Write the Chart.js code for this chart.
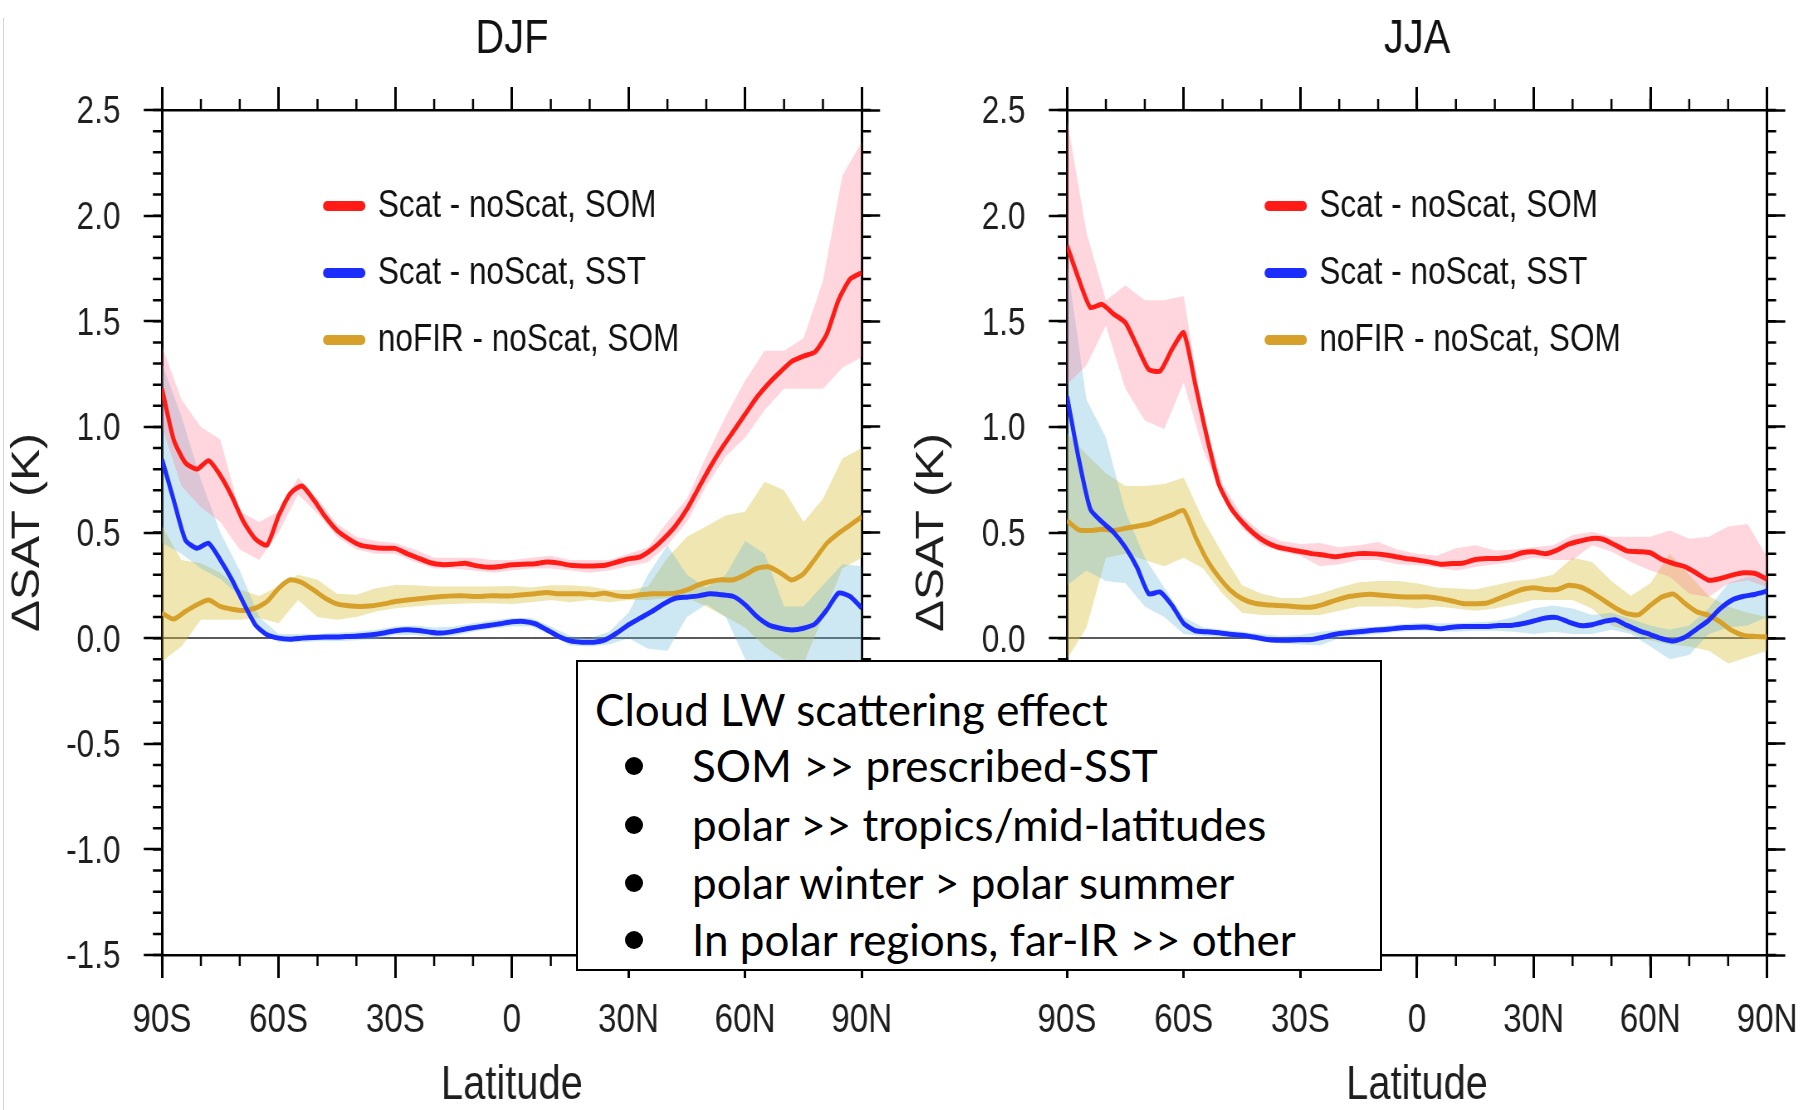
<!DOCTYPE html>
<html lang="en">
<head>
<meta charset="UTF-8">
<title>Zonal-mean surface air temperature change</title>
<script src="https://cdn.jsdelivr.net/npm/chart.js"></script>
<style>
    body {
        margin: 0;
        width: 1806px;
        height: 1110px;
        overflow: hidden;
        position: relative;
        background: #fff;
        font-family: 'Liberation Sans', Arial, sans-serif;
    }
    canvas.panel {
        position: absolute;
        top: 0;
        transform-origin: 0 0;
    }
    #edge {
        position: absolute;
        left: 3px;
        top: 18px;
        bottom: 0;
        border-left: 1px solid #d4d4d4;
    }
    .note {
        position: absolute;
        left: 576px;
        top: 660px;
        width: 806px;
        height: 311px;
        box-sizing: border-box;
        border: 2px solid #000;
        background: #fff;
        font-family: Lato, 'Open Sans', sans-serif;
        font-size: 44px;
        color: #000;
        z-index: 5;
    }
    .note div {
        position: absolute;
        height: 58px;
        line-height: 58px;
        white-space: nowrap;
    }
    .note .head { left: 17px; }
    .note .item { left: 114px; }
    .note .item::before {
        content: "";
        position: absolute;
        left: -67px;
        top: 21px;
        width: 18px;
        height: 18px;
        border-radius: 50%;
        background: #000;
    }
</style>
</head>
<body>

<div id="edge"></div>
<canvas id="djf" class="panel"></canvas>
<canvas id="jja" class="panel"></canvas>

<div class="note">
    <div class="head" style="top:18px">Cloud LW scattering effect</div>
    <div class="item" style="top:74px">SOM &gt;&gt; prescribed-SST</div>
    <div class="item" style="top:133px">polar &gt;&gt; tropics/mid-latitudes</div>
    <div class="item" style="top:191px">polar winter &gt; polar summer</div>
    <div class="item" style="top:248px">In polar regions, far-IR &gt;&gt; other</div>
</div>

<script>
// latitude of the line samples (deg, south negative)
const lat = [-90, -87, -84, -81, -78, -75, -72, -69, -66, -63, -60, -57, -54, -51, -48, -45, -42, -39, -36, -33, -30,
             -27, -24, -21, -18, -15, -12, -9, -6, -3, 0, 3, 6, 9, 12, 15, 18, 21, 24, 27, 30,
             33, 36, 39, 42, 45, 48, 51, 54, 57, 60, 63, 66, 69, 72, 75, 78, 81, 84, 87, 90];
// latitude of the spread (shading) samples
const latBand = [-90, -85, -80, -75, -70, -65, -60, -55, -50, -45, -40, -35, -30, -25, -20, -15, -10, -5, 0,
                 5, 10, 15, 20, 25, 30, 35, 40, 45, 50, 55, 60, 65, 70, 75, 80, 85, 90];

const latTicks = [-90, -60, -30, 0, 30, 60, 90];
const latTickLabels = ['90S', '60S', '30S', '0', '30N', '60N', '90N'];

const seriesNames = ['Scat - noScat, SOM', 'Scat - noScat, SST', 'noFIR - noScat, SOM'];

// ---- DJF ----
const djfSom = [1.18, 0.94, 0.83, 0.80, 0.84, 0.77, 0.67, 0.55, 0.47, 0.44, 0.58, 0.685, 0.72, 0.655, 0.575, 0.51, 0.47, 0.44, 0.43, 0.425, 0.425,
                0.40, 0.378, 0.357, 0.348, 0.35, 0.354, 0.342, 0.335, 0.339, 0.347, 0.35, 0.352, 0.36, 0.355, 0.345, 0.342, 0.342, 0.345, 0.36, 0.375,
                0.385, 0.42, 0.47, 0.53, 0.61, 0.71, 0.81, 0.90, 0.98, 1.06, 1.14, 1.205, 1.26, 1.31, 1.335, 1.355, 1.44, 1.60, 1.70, 1.73];
const djfSst = [0.846, 0.654, 0.465, 0.425, 0.449, 0.37, 0.276, 0.165, 0.063, 0.016, 0.0, -0.005, 0.0, 0.003, 0.005, 0.005, 0.008, 0.011, 0.016, 0.024, 0.035,
                0.04, 0.036, 0.028, 0.024, 0.032, 0.043, 0.052, 0.06, 0.068, 0.077, 0.079, 0.068, 0.039, 0.008, -0.013, -0.019, -0.019, -0.008, 0.024, 0.063,
                0.095, 0.126, 0.162, 0.189, 0.194, 0.20, 0.21, 0.205, 0.197, 0.158, 0.102, 0.063, 0.047, 0.039, 0.047, 0.068, 0.134, 0.213, 0.197, 0.142];
const djfNoFir = [0.118, 0.09, 0.126, 0.158, 0.18, 0.15, 0.137, 0.131, 0.142, 0.173, 0.236, 0.276, 0.263, 0.228, 0.189, 0.162, 0.153, 0.15, 0.153, 0.162, 0.173,
                  0.181, 0.186, 0.192, 0.197, 0.2, 0.2, 0.197, 0.2, 0.2, 0.2, 0.205, 0.21, 0.216, 0.21, 0.21, 0.21, 0.205, 0.213, 0.2, 0.197,
                  0.205, 0.21, 0.21, 0.213, 0.228, 0.252, 0.268, 0.276, 0.276, 0.30, 0.33, 0.338, 0.31, 0.275, 0.305, 0.375, 0.449, 0.496, 0.535, 0.575];

const djfSomHi = [1.38, 1.13, 1.0, 0.94, 0.60, 0.55, 0.60, 0.76, 0.66, 0.54, 0.48, 0.46, 0.45, 0.42, 0.38, 0.38, 0.38, 0.37, 0.37,
                  0.38, 0.39, 0.37, 0.37, 0.37, 0.40, 0.43, 0.55, 0.66, 0.86, 1.05, 1.22, 1.36, 1.36, 1.42, 1.69, 2.19, 2.35];
const djfSomLo = [1.0, 0.72, 0.62, 0.55, 0.42, 0.37, 0.50, 0.68, 0.59, 0.48, 0.42, 0.40, 0.40, 0.36, 0.33, 0.33, 0.32, 0.31, 0.32,
                  0.33, 0.33, 0.32, 0.31, 0.32, 0.34, 0.36, 0.44, 0.55, 0.72, 0.86, 0.95, 1.08, 1.18, 1.18, 1.18, 1.28, 1.33];
const djfSstHi = [1.30, 1.05, 0.75, 0.50, 0.32, 0.10, 0.02, 0.02, 0.02, 0.025, 0.03, 0.04, 0.055, 0.06, 0.05, 0.055, 0.07, 0.085, 0.095,
                  0.095, 0.055, 0.01, 0.0, 0.03, 0.12, 0.30, 0.44, 0.30, 0.24, 0.30, 0.46, 0.40, 0.15, 0.15, 0.25, 0.35, 0.34];
const djfSstLo = [0.45, 0.40, 0.33, 0.28, 0.20, 0.04, -0.02, -0.02, -0.015, -0.015, -0.01, -0.005, 0.015, 0.015, 0.005, 0.01, 0.03, 0.045, 0.055,
                  0.055, 0.015, -0.035, -0.04, -0.03, 0.0, -0.05, -0.06, 0.10, 0.16, 0.10, -0.10, -0.20, -0.20, -0.20, -0.15, -0.12, -0.12];
const djfNoFirHi = [0.53, 0.37, 0.355, 0.31, 0.23, 0.20, 0.245, 0.30, 0.276, 0.21, 0.205, 0.236, 0.252, 0.25, 0.244, 0.244, 0.244, 0.244, 0.247,
                    0.24, 0.25, 0.25, 0.244, 0.228, 0.228, 0.244, 0.38, 0.48, 0.53, 0.58, 0.60, 0.74, 0.70, 0.55, 0.66, 0.85, 0.90];
const djfNoFirLo = [-0.11, -0.04, 0.087, 0.087, 0.087, 0.095, 0.07, 0.18, 0.10, 0.087, 0.10, 0.126, 0.142, 0.15, 0.158, 0.162, 0.165, 0.165, 0.162,
                    0.17, 0.18, 0.17, 0.18, 0.17, 0.18, 0.18, 0.19, 0.19, 0.15, 0.10, 0.05, -0.04, -0.10, -0.12, 0.10, 0.33, 0.38];

// ---- JJA ----
const jjaSom = [1.858, 1.70, 1.565, 1.58, 1.534, 1.494, 1.383, 1.272, 1.265, 1.367, 1.446, 1.20, 0.95, 0.73, 0.62, 0.55, 0.496, 0.456, 0.432, 0.42, 0.41,
                0.40, 0.393, 0.385, 0.393, 0.40, 0.40, 0.396, 0.388, 0.377, 0.37, 0.361, 0.35, 0.353, 0.356, 0.372, 0.377, 0.377, 0.385, 0.404, 0.409,
                0.40, 0.417, 0.445, 0.46, 0.472, 0.467, 0.44, 0.413, 0.409, 0.404, 0.372, 0.353, 0.337, 0.306, 0.274, 0.282, 0.298, 0.309, 0.306, 0.279];
const jjaSst = [1.145, 0.85, 0.61, 0.55, 0.50, 0.43, 0.335, 0.21, 0.218, 0.155, 0.07, 0.035, 0.03, 0.025, 0.018, 0.014, 0.005, -0.005, -0.01, -0.01, -0.008,
                -0.006, 0.005, 0.018, 0.025, 0.03, 0.036, 0.04, 0.045, 0.05, 0.052, 0.052, 0.044, 0.052, 0.055, 0.055, 0.055, 0.06, 0.06, 0.068, 0.081,
                0.095, 0.097, 0.076, 0.06, 0.063, 0.079, 0.087, 0.06, 0.036, 0.017, -0.003, -0.014, 0.005, 0.044, 0.084, 0.14, 0.18, 0.198, 0.208, 0.223];
const jjaNoFir = [0.556, 0.512, 0.51, 0.515, 0.51, 0.52, 0.53, 0.54, 0.562, 0.583, 0.604, 0.48, 0.37, 0.29, 0.227, 0.187, 0.166, 0.158, 0.155, 0.152, 0.147,
                  0.147, 0.16, 0.179, 0.195, 0.203, 0.208, 0.203, 0.198, 0.195, 0.195, 0.195, 0.187, 0.176, 0.163, 0.163, 0.166, 0.187, 0.21, 0.23, 0.239,
                  0.23, 0.23, 0.25, 0.242, 0.215, 0.179, 0.143, 0.116, 0.111, 0.155, 0.195, 0.208, 0.163, 0.124, 0.108, 0.076, 0.036, 0.013, 0.008, 0.005];

const jjaSomHi = [2.46, 1.92, 1.60, 1.67, 1.60, 1.60, 1.62, 1.05, 0.73, 0.58, 0.50, 0.46, 0.445, 0.45, 0.43, 0.44, 0.455, 0.42, 0.40,
                  0.39, 0.425, 0.44, 0.415, 0.42, 0.43, 0.44, 0.488, 0.504, 0.48, 0.48, 0.48, 0.51, 0.47, 0.48, 0.528, 0.54, 0.385];
const jjaSomLo = [1.20, 1.29, 1.48, 1.18, 1.03, 0.99, 1.21, 0.89, 0.67, 0.52, 0.44, 0.41, 0.39, 0.34, 0.35, 0.37, 0.37, 0.35, 0.345,
                  0.335, 0.32, 0.337, 0.35, 0.36, 0.38, 0.37, 0.37, 0.44, 0.41, 0.36, 0.32, 0.29, 0.21, 0.195, 0.258, 0.274, 0.242];
const jjaSstHi = [1.78, 1.13, 0.95, 0.60, 0.38, 0.24, 0.10, 0.05, 0.04, 0.03, 0.02, 0.01, 0.015, 0.03, 0.04, 0.05, 0.055, 0.065, 0.07,
                  0.07, 0.07, 0.075, 0.08, 0.10, 0.14, 0.155, 0.14, 0.11, 0.12, 0.09, 0.06, 0.04, 0.06, 0.14, 0.26, 0.29, 0.30];
const jjaSstLo = [0.25, 0.32, 0.27, 0.26, 0.15, 0.10, 0.02, 0.01, 0.005, 0.0, -0.015, -0.025, -0.03, -0.035, 0.0, 0.01, 0.02, 0.03, 0.035,
                  0.035, 0.03, 0.035, 0.035, 0.03, 0.02, 0.03, 0.02, 0.02, 0.04, 0.02, -0.04, -0.10, -0.08, 0.02, 0.05, 0.06, 0.10];
const jjaNoFirHi = [0.97, 0.87, 0.78, 0.72, 0.72, 0.73, 0.76, 0.56, 0.40, 0.25, 0.21, 0.19, 0.19, 0.21, 0.24, 0.265, 0.27, 0.27, 0.26,
                    0.24, 0.235, 0.23, 0.25, 0.27, 0.28, 0.30, 0.38, 0.36, 0.27, 0.20, 0.26, 0.40, 0.30, 0.20, 0.15, 0.12, 0.10];
const jjaNoFirLo = [-0.10, 0.05, 0.38, 0.40, 0.37, 0.34, 0.38, 0.33, 0.21, 0.12, 0.11, 0.11, 0.11, 0.11, 0.13, 0.15, 0.15, 0.15, 0.14,
                    0.15, 0.14, 0.13, 0.14, 0.16, 0.18, 0.18, 0.18, 0.14, 0.06, 0.03, -0.01, -0.03, -0.04, -0.06, -0.12, -0.09, -0.06];

const lineColors = ['#ff1c16', '#1b2dff', '#d6a02a'];
const bandColors = ['rgba(255,120,145,0.30)', 'rgba(100,185,215,0.32)', 'rgba(215,192,60,0.40)'];

// the panels are drawn wide and squeezed horizontally by K
const K = 0.83;
const FONT = "'Liberation Sans', Arial, sans-serif";

const pts = (xs, ys) => xs.map((x, i) => ({ x: x, y: ys[i] }));

// short ticks between the labelled ones, drawn outward like the major ticks
const minorTicks = {
    id: 'minorTicks',
    afterDraw(chart) {
        const ctx = chart.ctx;
        Object.values(chart.scales).forEach(scale => {
            const m = scale.options.minor;
            if (!m) return;
            ctx.save();
            ctx.strokeStyle = '#000';
            ctx.lineWidth = m.width;
            ctx.beginPath();
            const n = Math.round((scale.max - scale.min) / m.step);
            for (let i = 0; i <= n; i++) {
                const p = scale.getPixelForValue(scale.min + i * m.step);
                if (scale.position === 'left') { ctx.moveTo(scale.right, p); ctx.lineTo(scale.right - m.length, p); }
                else if (scale.position === 'right') { ctx.moveTo(scale.left, p); ctx.lineTo(scale.left + m.length, p); }
                else if (scale.position === 'top') { ctx.moveTo(p, scale.bottom); ctx.lineTo(p, scale.bottom - m.length); }
                else { ctx.moveTo(p, scale.top); ctx.lineTo(p, scale.top + m.length); }
            }
            ctx.stroke();
            ctx.restore();
        });
    }
};

// legend inside the plot frame, one row per line series
const innerLegend = {
    id: 'innerLegend',
    afterDatasetsDraw(chart, args, opts) {
        const ctx = chart.ctx;
        const x0 = chart.chartArea.left + opts.dx;
        ctx.save();
        ctx.font = opts.size + 'px ' + FONT;
        ctx.textBaseline = 'middle';
        ctx.fillStyle = '#111';
        chart.data.datasets.slice(0, 3).forEach((ds, i) => {
            const y = opts.top + i * opts.gap;
            ctx.strokeStyle = ds.borderColor;
            ctx.lineWidth = 10;
            ctx.lineCap = 'round';
            ctx.beginPath();
            ctx.moveTo(x0 + 6, y);
            ctx.lineTo(x0 + opts.len - 6, y);
            ctx.stroke();
            ctx.fillText(ds.label, x0 + opts.textDx, y + 1);
        });
        ctx.restore();
    }
};

function panel(p) {
    const canvas = document.getElementById(p.id);
    const w = Math.round(p.screenWidth / K);
    canvas.width = w;
    canvas.height = 1110;
    canvas.style.left = p.screenLeft + 'px';
    canvas.style.transform = 'scaleX(' + K + ')';

    const leftW = (p.plotLeft - p.screenLeft) / K;
    const rightW = w - (p.plotRight - p.screenLeft) / K;

    const lines = p.lines.map((ys, i) => ({
        label: seriesNames[i],
        data: pts(lat, ys),
        borderColor: lineColors[i],
        borderWidth: 5,
        pointRadius: 0,
        tension: 0.2,
        fill: false,
        order: 1
    }));
    const bands = [];
    p.bands.forEach((b, i) => {
        bands.push({ data: pts(latBand, b[0]), fill: '+1', backgroundColor: bandColors[i], borderWidth: 0, pointRadius: 0, order: 2 });
        bands.push({ data: pts(latBand, b[1]), fill: false, borderWidth: 0, pointRadius: 0, order: 2 });
    });

    const tickFontY = { family: FONT, size: 38 };
    // tall line box pushes the latitude labels down without widening the edge padding
    const tickFontX = { family: FONT, size: 40, lineHeight: 1.7 };

    new Chart(canvas, {
        type: 'line',
        data: { datasets: lines.concat(bands) },
        plugins: [minorTicks, innerLegend],
        options: {
            responsive: false,
            animation: false,
            events: [],
            layout: { padding: 0 },
            plugins: {
                legend: { display: false },
                tooltip: { enabled: false },
                innerLegend: { dx: p.legendDx, top: 206, gap: 67, len: 53, textDx: 67, size: 38 }
            },
            scales: {
                x: {
                    type: 'linear', position: 'bottom', min: -90, max: 90,
                    afterBuildTicks: s => { s.ticks = latTicks.map(v => ({ value: v })); },
                    afterFit: s => { s.height = 155; },
                    ticks: { font: tickFontX, color: '#1e1e1e', padding: 9, maxRotation: 0, autoSkip: false,
                             callback: (v, i) => latTickLabels[i] },
                    grid: { drawOnChartArea: false, tickLength: 23, tickWidth: 3, tickColor: '#000' },
                    border: { display: true, color: '#000', width: 2.5 },
                    title: { display: true, text: 'Latitude', color: '#1e1e1e',
                             font: { family: FONT, size: 48, lineHeight: 1 }, padding: { top: 0, bottom: 0 } },
                    minor: { step: 10, length: 11, width: 2.5 }
                },
                x2: {
                    type: 'linear', position: 'top', min: -90, max: 90,
                    afterBuildTicks: s => { s.ticks = latTicks.map(v => ({ value: v })); },
                    afterFit: s => { s.height = 110; },
                    ticks: { display: false },
                    grid: { drawOnChartArea: false, tickLength: 23, tickWidth: 3, tickColor: '#000' },
                    border: { display: true, color: '#000', width: 2.5 },
                    title: { display: true, text: p.title, color: '#111',
                             font: { family: FONT, size: 48, lineHeight: 1 }, padding: { top: 16, bottom: 0 } },
                    minor: { step: 10, length: 11, width: 2.5 }
                },
                y: {
                    type: 'linear', position: 'left', min: -1.5, max: 2.5,
                    afterFit: s => { s.width = leftW; },
                    ticks: { stepSize: 0.5, font: tickFontY, color: '#1e1e1e', padding: 28, labelOffset: 3,
                             callback: v => v.toFixed(1) },
                    grid: {
                        drawOnChartArea: true,
                        color: c => (c.tick && Math.abs(c.tick.value) < 1e-9) ? '#5a5a5a' : 'rgba(0,0,0,0)',
                        lineWidth: 2,
                        tickLength: 22, tickWidth: 2.5, tickColor: '#000'
                    },
                    border: { display: true, color: '#000', width: 3 },
                    title: { display: true, text: 'ΔSAT (K)', color: '#1e1e1e',
                             font: { family: FONT, size: 48, lineHeight: 1 }, padding: { top: p.yTitlePad, bottom: 0 } },
                    minor: { step: 0.1, length: 11, width: 2.5 }
                },
                y2: {
                    type: 'linear', position: 'right', min: -1.5, max: 2.5,
                    afterFit: s => { s.width = rightW; },
                    ticks: { display: false, stepSize: 0.5 },
                    grid: { drawOnChartArea: false, tickLength: 22, tickWidth: 2.5, tickColor: '#000' },
                    border: { display: true, color: '#000', width: 3 },
                    minor: { step: 0.1, length: 11, width: 2.5 }
                }
            }
        }
    });
}

panel({
    id: 'djf', title: 'DJF',
    screenLeft: 0, screenWidth: 900, plotLeft: 162, plotRight: 864,
    yTitlePad: 10, legendDx: 193,
    lines: [djfSom, djfSst, djfNoFir],
    bands: [[djfSomHi, djfSomLo], [djfSstHi, djfSstLo], [djfNoFirHi, djfNoFirLo]]
});

panel({
    id: 'jja', title: 'JJA',
    screenLeft: 900, screenWidth: 906, plotLeft: 1067, plotRight: 1767,
    yTitlePad: 15, legendDx: 237,
    lines: [jjaSom, jjaSst, jjaNoFir],
    bands: [[jjaSomHi, jjaSomLo], [jjaSstHi, jjaSstLo], [jjaNoFirHi, jjaNoFirLo]]
});
</script>
</body>
</html>
